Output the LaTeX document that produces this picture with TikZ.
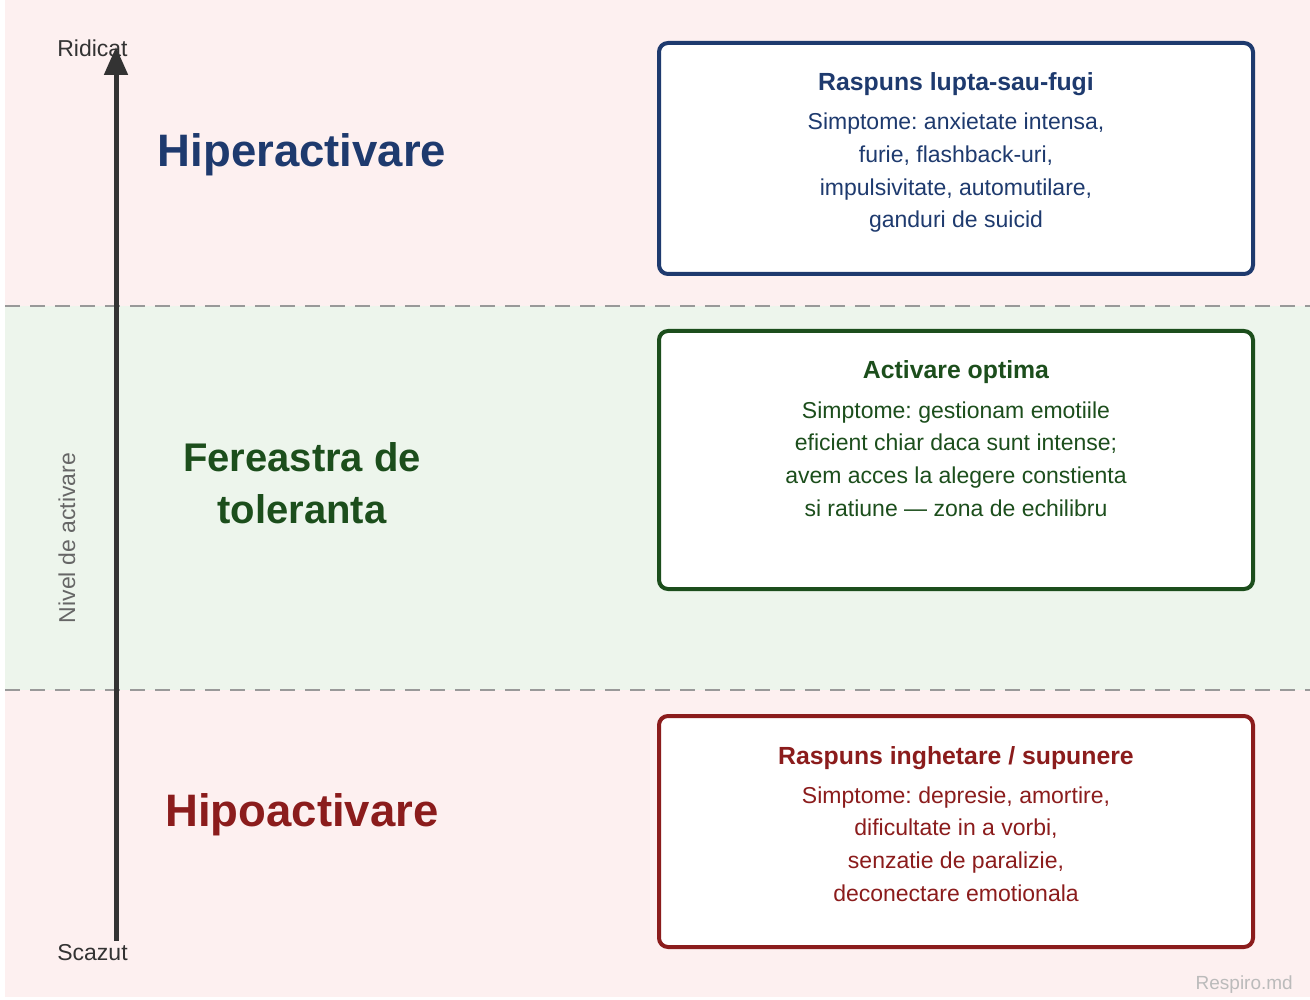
\documentclass[tikz,border=0pt]{standalone}
\usepackage{fontspec}
\setmainfont{Liberation Sans}
\usetikzlibrary{arrows.meta}
\definecolor{pinkbg}{HTML}{FDF0F0}
\definecolor{greenbg}{HTML}{EDF5EC}
\definecolor{hiblue}{HTML}{1E3A6E}
\definecolor{okgreen}{HTML}{1C4E1C}
\definecolor{lored}{HTML}{8B1C1C}
\definecolor{axisc}{HTML}{333333}
\definecolor{dashc}{HTML}{999999}
\definecolor{mutec}{HTML}{666666}
\definecolor{markc}{HTML}{BBBBBB}
\frenchspacing
\begin{document}
\begin{tikzpicture}[x=1pt,y=-1pt,
  txt/.style={inner sep=0pt, anchor=base, font=\fontsize{23}{28}\selectfont},
  ttl/.style={inner sep=0pt, anchor=base, font=\fontsize{24.8}{28}\selectfont\bfseries},
  zone/.style={inner sep=0pt, anchor=base, font=\fontsize{45.5}{54}\selectfont\bfseries},
  zonesm/.style={inner sep=0pt, anchor=base, font=\fontsize{40}{48}\selectfont\bfseries},
  axlbl/.style={inner sep=0pt, anchor=base, text=axisc, font=\fontsize{23}{26}\selectfont},
  card/.style={draw, line width=4pt, rounded corners=9pt, fill=white, anchor=north west,
    minimum width=594pt, inner sep=0pt, outer sep=0pt},
  sep/.style={draw=dashc, line width=2.6pt, dash pattern=on 15pt off 10pt}
]
\useasboundingbox (0,0) rectangle (1310,1000);
\fill[white] (0,0) rectangle (1310,1000);
\fill[pinkbg] (5,0) rectangle (1310,306);
\fill[greenbg] (5,306) rectangle (1310,690);
\fill[pinkbg] (5,690) rectangle (1310,997);

\coordinate (s1a) at (5,306);
\coordinate (s1b) at (1310,306);
\coordinate (s2a) at (5,690);
\coordinate (s2b) at (1310,690);
\draw[sep] (s1a) -- (s1b);
\draw[sep] (s2a) -- (s2b);

% axis
\node[axlbl] (high) at (92.5,57) {Ridicat};
\node[axlbl] (low) at (92.5,960) {Scazut};
\coordinate (axbot) at (116,941);
\coordinate (axtop) at (116,47);
\draw[axisc, line width=5pt, -{Triangle[length=28pt,width=23pt]}] (axbot) -- (axtop);
\node[inner sep=0pt, anchor=base, rotate=90, text=mutec, font=\fontsize{23}{26}\selectfont] (axname) at (75,538) {Nivel de activare};

% zone names
\node[zone, text=hiblue] (zhi) at (302,167) {Hiperactivare};
\node[zonesm, text=okgreen] (zok1) at (302,471) {Fereastra de};
\node[zonesm, text=okgreen] (zok2) at (302,523) {toleranta};
\node[zone, text=lored] (zlo) at (302,826) {Hipoactivare};

% cards
\node[card, draw=hiblue, minimum height=231pt] (hibox) at (659,43) {};
\node[card, draw=okgreen, minimum height=258pt] (okbox) at (659,331) {};
\node[card, draw=lored, minimum height=231pt] (lobox) at (659,716) {};

% blue text
\begin{scope}[text=hiblue]
\node[ttl] (ht) at (956,91) {Raspuns lupta-sau-fugi};
\node[txt] (h1) at (956,130) {Simptome: anxietate intensa,};
\node[txt] (h2) at (956,162.7) {furie, flashback-uri,};
\node[txt] (h3) at (956,195.4) {impulsivitate, automutilare,};
\node[txt] (h4) at (956,228) {ganduri de suicid};
\end{scope}

% green text
\begin{scope}[text=okgreen]
\node[ttl] (ot) at (956,379) {Activare optima};
\node[txt] (o1) at (956,418) {Simptome: gestionam emotiile};
\node[txt] (o2) at (956,450.7) {eficient chiar daca sunt intense;};
\node[txt] (o3) at (956,483.4) {avem acces la alegere constienta};
\node[txt] (o4) at (956,516) {si ratiune — zona de echilibru};
\end{scope}

% red text
\begin{scope}[text=lored]
\node[ttl] (lt) at (956,764) {Raspuns inghetare / supunere};
\node[txt] (l1) at (956,803) {Simptome: depresie, amortire,};
\node[txt] (l2) at (956,835.7) {dificultate in a vorbi,};
\node[txt] (l3) at (956,868.4) {senzatie de paralizie,};
\node[txt] (l4) at (956,901) {deconectare emotionala};
\end{scope}

\node[inner sep=0pt, anchor=base east, text=markc, font=\fontsize{19}{22}\selectfont] (mark) at (1293,989) {Respiro.md};
\end{tikzpicture}
\end{document}
